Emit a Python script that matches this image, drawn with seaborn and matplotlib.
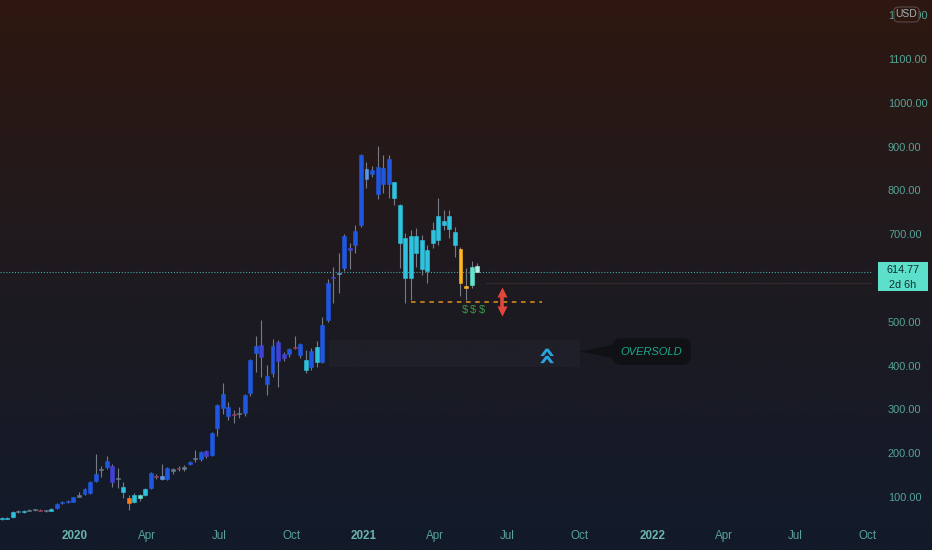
import numpy as np
import pandas as pd
import matplotlib
matplotlib.use("Agg")
import matplotlib.pyplot as plt
import matplotlib.dates as mdates
import matplotlib.transforms as mtransforms
from matplotlib.colors import LinearSegmentedColormap
from matplotlib.patches import Rectangle, FancyBboxPatch
import seaborn as sns

# weekly candles, Sep 2019 -> May 2021
weeks = pd.date_range("2019-09-30", periods=87, freq="7D")

opens = [49.8, 50.5, 54.3, 66.5, 65.5, 68.5, 71.0, 70.5, 69.0, 68.0,
         74.9, 86.3, 88.6, 88.6, 101.0, 106.8, 109.1, 136.5, 162.0, 168.5,
         170.8, 141.0, 122.4, 97.7, 88.6, 104.6, 104.0, 120.5, 147.0, 141.1,
         141.0, 160.5, 166.2, 165.0, 175.3, 186.0, 186.7, 205.0, 195.9, 257.5,
         303.2, 305.5, 287.3, 290.0, 291.8, 337.4, 428.7, 447.0, 376.2, 383.1,
         453.9, 417.3, 426.5, 442.4, 449.3, 412.8, 396.8, 442.4, 408.2, 504.8,
         600.0, 608.0, 622.8, 665.0, 675.3, 721.0, 848.0, 836.7, 853.2, 814.4,
         871.8, 818.9, 765.9, 691.3, 600.0, 695.9, 686.7, 616.0, 680.0, 686.7,
         730.2, 741.6, 705.0, 666.2, 582.6, 584.0, 627.4]
highs = [54.3, 54.3, 68.0, 69.5, 70.0, 73.5, 72.5, 72.0, 70.5, 74.0,
         85.5, 90.0, 92.5, 101.0, 111.0, 120.0, 135.5, 198.2, 170.8, 193.6,
         175.0, 166.0, 134.0, 104.0, 110.0, 108.0, 121.0, 158.0, 152.0, 175.3,
         168.0, 166.0, 170.0, 172.0, 182.0, 207.3, 205.0, 208.0, 248.0, 312.0,
         360.3, 318.0, 298.0, 305.0, 335.0, 415.0, 467.6, 504.8, 401.5, 460.0,
         458.4, 432.0, 440.0, 467.6, 452.0, 435.0, 440.0, 456.0, 510.0, 598.0,
         625.0, 657.0, 700.0, 680.0, 721.0, 884.0, 864.0, 855.0, 901.3, 880.0,
         880.0, 820.0, 768.0, 702.0, 709.6, 715.0, 698.0, 675.0, 727.0, 782.4,
         755.0, 755.0, 716.0, 670.0, 622.8, 638.0, 634.0]
lows = [47.5, 49.0, 52.5, 63.5, 64.5, 67.0, 68.5, 67.0, 66.0, 67.0,
        73.5, 84.5, 87.0, 87.5, 99.0, 105.5, 107.5, 134.0, 145.7, 165.0,
        122.0, 120.5, 97.7, 70.3, 86.0, 92.0, 102.0, 118.0, 140.0, 138.0,
        139.0, 153.0, 160.0, 159.0, 173.0, 180.0, 182.0, 190.0, 193.0, 240.0,
        290.0, 275.0, 270.0, 280.0, 285.0, 330.0, 385.4, 374.0, 332.9, 374.0,
        351.1, 410.0, 420.0, 437.0, 418.0, 383.0, 390.0, 396.8, 405.0, 500.0,
        543.0, 565.6, 617.0, 620.3, 657.0, 717.0, 804.6, 830.0, 780.2, 795.0,
        782.4, 766.0, 622.8, 542.9, 549.8, 625.0, 606.0, 589.0, 668.0, 675.3,
        709.6, 691.3, 648.0, 559.4, 549.8, 578.0, 614.0]
closes = [52.1, 52.1, 66.5, 65.5, 67.5, 71.0, 70.0, 69.0, 67.5, 72.6,
          84.0, 88.6, 90.9, 100.0, 104.6, 118.3, 134.2, 152.5, 164.0, 182.2,
          134.2, 143.4, 111.4, 86.3, 104.6, 97.7, 118.3, 154.8, 145.7, 147.9,
          166.2, 161.6, 164.5, 166.2, 179.9, 187.5, 202.7, 193.6, 246.1, 310.0,
          335.1, 285.0, 289.0, 291.8, 332.9, 412.8, 444.7, 419.6, 358.0, 444.7,
          410.5, 426.5, 437.9, 440.0, 424.3, 390.0, 433.3, 408.2, 492.7, 588.5,
          602.2, 611.4, 695.9, 668.5, 707.3, 880.0, 825.3, 845.8, 791.6, 850.9,
          814.4, 782.4, 679.6, 600.0, 695.9, 657.0, 620.3, 664.2, 709.6, 741.6,
          721.0, 711.9, 675.3, 589.1, 578.0, 625.1, 614.77]
# trend colour code of each candle
tones = ("ccc" "gcggrgc" "bbbbgbbbgb" "pgcocacbrl" "bgrgbgbpbb"
         "bbrgbbbpbb" "ppbrbcbcbb" "plbpbblbbb" "bccccccccc"
         "cccyyaw")

palette = {"c": "#2ec2de", "b": "#1f57e0", "p": "#4141d6", "g": "#677c8a",
           "r": "#9a3f58", "o": "#ff7a18", "y": "#ffb81c", "a": "#64e3cf",
           "w": "#b3efe4", "l": "#5a9ae8"}

y_ticks = [100, 200, 300, 400, 500, 600, 700, 800, 900, 1000, 1100, 1200]
x_tick_dates = ["2020-01-01", "2020-04-01", "2020-07-01", "2020-10-01",
                "2021-01-01", "2021-04-01", "2021-07-01", "2021-10-01",
                "2022-01-01", "2022-04-01", "2022-07-01", "2022-10-01"]
x_tick_labels = ["2020", "Apr", "Jul", "Oct", "2021", "Apr", "Jul", "Oct",
                 "2022", "Apr", "Jul", "Oct"]

support_level = 545
support_span = ["2021-03-01", "2021-08-14"]
dollar_dates = ["2021-05-08", "2021-05-19", "2021-05-30"]
dollar_level = 527
arrow_date, arrow_range = "2021-06-25", (517, 574)
zone_span, zone_range = ["2020-11-18", "2021-10-01"], (396, 459)
signal_date, signal_level = "2021-08-19", 428
callout_tip, callout_box = "2021-10-02", "2021-12-31"
prev_level, prev_start = 588.5, "2021-06-03"

sns.set_theme(style="dark", rc={"axes.facecolor": "none",
                                "figure.facecolor": "#1b1a20"})
plt.rcParams["font.family"] = ["Liberation Sans", "DejaVu Sans"]

txt_col = "#55a396"
fig = plt.figure(figsize=(9.32, 5.5), dpi=100)

# background gradient
bg = fig.add_axes([0, 0, 1, 1], zorder=0)
cmap = LinearSegmentedColormap.from_list("bg", ["#2e1710", "#1e1a20", "#121a2b"])
bg.imshow(np.linspace(0, 1, 256).reshape(-1, 1), aspect="auto", cmap=cmap,
          extent=[0, 1, 0, 1], origin="upper")
bg.axis("off")

ax = fig.add_axes([0, 25 / 550, 872 / 932, 525 / 550], zorder=1)
ax.set_facecolor("none")

x = mdates.date2num(weeks)
o = np.array(opens)
c = np.array(closes)
cols = [palette[t] for t in tones]
ax.vlines(x, lows, highs, color="#767b86", lw=0.8, zorder=2)
ax.bar(x, np.maximum(np.abs(c - o), 2.4), bottom=np.minimum(o, c), width=5.0,
       color=cols, edgecolor=cols, linewidth=0.4, zorder=3)

d = lambda s: mdates.date2num(pd.Timestamp(s))
x0, x1 = d("2019-09-28"), d("2022-10-06")
ax.set_xlim(x0, x1)
ax.set_ylim(36.1, 1234.6)

# current price + previous close lines
ax.axhline(closes[-1], color="#3fa9a6", ls=(0, (1, 1.6)), lw=0.8, zorder=1)
ax.hlines(prev_level, d(prev_start), x1, color="#34292c", lw=1.0, zorder=1)

# support level with $ marks and arrow
ax.hlines(support_level, d(support_span[0]), d(support_span[1]),
          colors="#e5901f", ls=(0, (3, 3)), lw=1.1, zorder=2)
for s in dollar_dates:
    ax.text(d(s), dollar_level, "$", color="#3c9a48", fontsize=8,
            ha="center", va="center")
ad = d(arrow_date)
ax.vlines(ad, arrow_range[0] + 6, arrow_range[1] - 6, color="#e2453c",
          lw=2.6, zorder=4)
ax.plot([ad], [arrow_range[1] - 7], marker="^", ms=7.5, color="#e2453c",
        mec="none", zorder=4)
ax.plot([ad], [arrow_range[0] + 7], marker="v", ms=7.5, color="#e2453c",
        mec="none", zorder=4)

# oversold zone
ax.add_patch(Rectangle((d(zone_span[0]), zone_range[0]),
                       d(zone_span[1]) - d(zone_span[0]),
                       zone_range[1] - zone_range[0],
                       fc="#3a3a48", alpha=0.18, ec="none", zorder=0.5))
ax.text(d(signal_date), signal_level, "»", rotation=90, color="#29a5de",
        fontsize=22, fontweight="bold", ha="center", va="center",
        family="DejaVu Sans")
ax.annotate("OVERSOLD", xy=(d(callout_tip), signal_level + 4),
            xytext=(d(callout_box), signal_level + 4), ha="center", va="center",
            fontsize=8, style="italic", color="#1fa88e",
            bbox=dict(boxstyle="round,pad=0.75", fc="#0f1115", ec="none"),
            arrowprops=dict(arrowstyle="wedge,tail_width=0.6", fc="#0f1115",
                            ec="none", shrinkA=0, shrinkB=0,
                            mutation_scale=16))

# axes
ax.yaxis.tick_right()
ax.set_yticks(y_ticks)
ax.set_yticklabels([f"{v:.2f}" for v in y_ticks])
ax.set_xticks([d(s) for s in x_tick_dates])
ax.set_xticklabels(x_tick_labels)
ax.tick_params(axis="y", length=0, pad=11.5, labelsize=7.9, labelcolor=txt_col)
ax.tick_params(axis="x", length=0, pad=3.5, labelsize=8.4, labelcolor=txt_col)
for lab in ax.get_xticklabels():
    if lab.get_text().isdigit():
        lab.set_fontweight("bold")
        lab.set_color("#6cb5aa")
ax.grid(False)
for sp in ax.spines.values():
    sp.set_visible(False)

# price label on the scale
blend = mtransforms.blended_transform_factory(fig.transFigure, ax.transData)
fig.add_artist(Rectangle((878 / 932, 570), 50 / 932, 66, transform=blend,
                         fc="#5de0cb", ec="none", zorder=10))
fig.add_artist(plt.Text(903 / 932, closes[-1] + 3, f"{closes[-1]:.2f}",
                        transform=blend, ha="center", va="center",
                        color="#0e2f2c", fontsize=7.8, zorder=11))
fig.add_artist(plt.Text(903 / 932, 584, "2d 6h", transform=blend,
                        ha="center", va="center", color="#0e2f2c",
                        fontsize=7.8, zorder=11))

# currency badge
fig.add_artist(FancyBboxPatch((894 / 932, 1 - 22 / 550), 25 / 932, 15 / 550,
                              boxstyle="round,pad=0,rounding_size=0.006",
                              transform=fig.transFigure, fc="#2c1711",
                              ec="#5a4846", lw=0.8, zorder=10))
fig.add_artist(plt.Text(906.5 / 932, 1 - 14 / 550, "USD",
                        transform=fig.transFigure, ha="center", va="center",
                        color="#a9b3b6", fontsize=7.5, zorder=11))

fig.savefig("out.png", dpi=100)
